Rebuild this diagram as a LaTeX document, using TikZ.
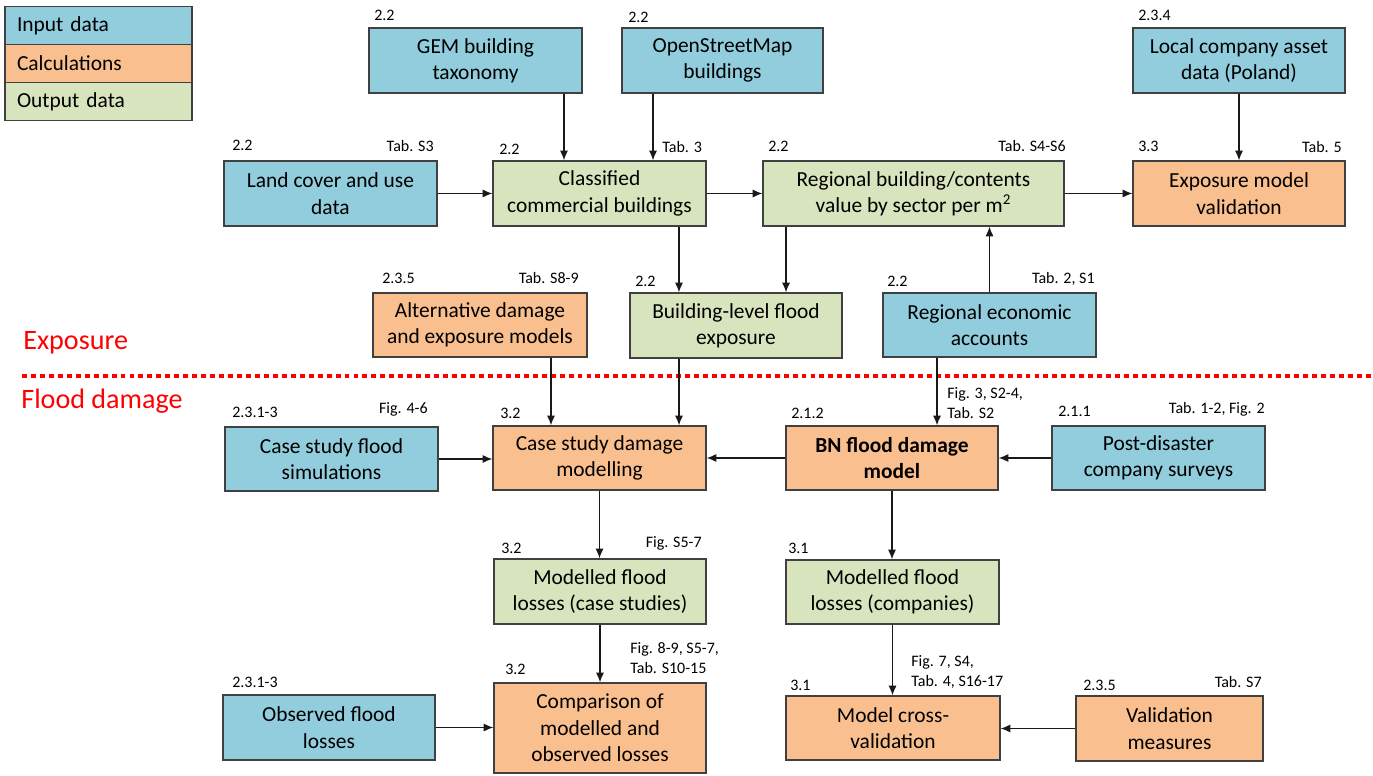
\documentclass[tikz,border=0pt]{standalone}
\usepackage{fontspec}
\setmainfont{Carlito}
\usepackage{tikz}
\usetikzlibrary{arrows.meta}
\definecolor{inblue}{RGB}{146,205,221}
\definecolor{calcorange}{RGB}{250,191,143}
\definecolor{outgreen}{RGB}{215,228,189}
\definecolor{edgegray}{RGB}{64,64,64}
\tikzset{
    blk/.style={draw=edgegray, line width=0.75pt, align=center, inner sep=0pt,
        font=\fontsize{12.2}{15}\selectfont, minimum height=1.3cm},
    inbox/.style={blk, fill=inblue},
    calcbox/.style={blk, fill=calcorange},
    outbox/.style={blk, fill=outgreen},
    sec/.style={inner sep=0pt, align=left, font=\fontsize{9.1}{11.2}\selectfont},
    arr/.style={-{Latex[length=5.5pt,width=4.6pt]}, line width=0.75pt, black!90},
    part/.style={inner sep=0pt, text=red, font=\fontsize{16}{19}\selectfont},
    legendrow/.style={draw=edgegray, line width=0.75pt, inner xsep=0.24cm,
        text width=3.26cm, minimum height=0.76cm, align=left,
        font=\fontsize{12.2}{15}\selectfont},
    sepline/.style={red, line width=2.8pt, dash pattern=on 2.8pt off 2.3pt}
}

\begin{document}
\begin{tikzpicture}[x=0.02cm, y=-0.02cm]
\useasboundingbox (0,0) rectangle (1373,776);

% legend
\node[legendrow, fill=inblue] (legin) at (98.5,25.5) {Input data};
\node[legendrow, fill=calcorange] (legcalc) at (98.5,63.5) {Calculations};
\node[legendrow, fill=outgreen] (legout) at (98.5,101.5) {Output data};

% exposure part
\node[inbox, minimum width=4.26cm] (gem) at (475.5,60.5) {GEM building\\taxonomy};
\node[inbox, minimum width=4.02cm] (osm) at (722.5,60.5) {OpenStreetMap\\buildings};
\node[inbox, minimum width=4.24cm] (local) at (1239,60.5) {Local company asset\\data (Poland)};
\node[inbox, minimum width=4.26cm] (land) at (330.5,193.5) {Land cover and use\\data};
\node[outbox, minimum width=4.26cm] (classified) at (599.5,193.5) {Classified\\commercial buildings};
\node[outbox, minimum width=6.02cm] (regval) at (913.5,193.5) {Regional building/contents\\value by sector per m\textsuperscript{2}};
\node[calcbox, minimum width=4.24cm] (expval) at (1239,193.5) {Exposure model\\validation};
\node[calcbox, minimum width=4.28cm, minimum height=1.28cm] (altmod) at (480,325) {Alternative damage\\and exposure models};
\node[outbox, minimum width=4.24cm] (bldexp) at (736,325.5) {Building-level flood\\exposure};
\node[inbox, minimum width=4.26cm, minimum height=1.28cm] (regecon) at (989.5,325) {Regional economic\\accounts};

% flood damage part
\node[inbox, minimum width=4.26cm, minimum height=1.28cm] (casesim) at (331.5,459) {Case study flood\\simulations};
\node[calcbox, minimum width=4.26cm, minimum height=1.28cm] (casedmg) at (599.5,458) {Case study damage\\modelling};
\node[calcbox, minimum width=4.24cm, minimum height=1.28cm, font=\fontsize{12.2}{15}\selectfont\bfseries] (bnmodel) at (892,458) {BN flood damage\\model};
\node[inbox, minimum width=4.26cm, minimum height=1.28cm] (survey) at (1158.5,458) {Post-disaster\\company surveys};
\node[outbox, minimum width=4.24cm] (modcase) at (600,591.5) {Modelled flood\\losses (case studies)};
\node[outbox, minimum width=4.26cm, minimum height=1.28cm] (modcomp) at (892.5,592) {Modelled flood\\losses (companies)};
\node[calcbox, minimum width=4.24cm, minimum height=1.8cm] (compare) at (600,728) {Comparison of\\modelled and\\observed losses};
\node[inbox, minimum width=4.24cm] (observed) at (329,727.5) {Observed flood\\losses};
\node[calcbox, minimum width=4.28cm, minimum height=1.28cm] (crossval) at (893,728) {Model cross-\\validation};
\node[calcbox, minimum width=3.74cm] (valmeas) at (1169.5,728.5) {Validation\\measures};

% section and table references
\node[sec, anchor=base west] (gem-s) at (374,21) {2.2};
\node[sec, anchor=base west] (osm-s) at (628,23) {2.2};
\node[sec, anchor=base west] (local-s) at (1138,21) {2.3.4};
\node[sec, anchor=base west] (land-s) at (232,151) {2.2};
\node[sec, anchor=base east] (land-t) at (434,152) {Tab. S3};
\node[sec, anchor=base west] (classified-s) at (499,155) {2.2};
\node[sec, anchor=base west] (classified-t) at (662,153) {Tab. 3};
\node[sec, anchor=base west] (regval-s) at (768,152) {2.2};
\node[sec, anchor=base east] (regval-t) at (1066,152) {Tab. S4-S6};
\node[sec, anchor=base west] (expval-s) at (1138,152) {3.3};
\node[sec, anchor=base east] (expval-t) at (1342,153) {Tab. 5};
\node[sec, anchor=base west] (altmod-s) at (382,284) {2.3.5};
\node[sec, anchor=base east] (altmod-t) at (579,284) {Tab. S8-9};
\node[sec, anchor=base west] (bldexp-s) at (635,287) {2.2};
\node[sec, anchor=base west] (regecon-s) at (887,287) {2.2};
\node[sec, anchor=base east] (regecon-t) at (1095,284) {Tab. 2, S1};
\node[sec, anchor=base west] (casesim-s) at (232,418) {2.3.1-3};
\node[sec, anchor=base east] (casesim-t) at (428,414) {Fig. 4-6};
\node[sec, anchor=base west] (casedmg-s) at (500,419) {3.2};
\node[sec, anchor=base west] (bnmodel-s) at (791,419) {2.1.2};
\node[sec, anchor=north west] (bnmodel-t) at (947,387) {Fig. 3, S2-4,\\Tab. S2};
\node[sec, anchor=base west] (survey-s) at (1058,417) {2.1.1};
\node[sec, anchor=base east] (survey-t) at (1265,414) {Tab. 1-2, Fig. 2};
\node[sec, anchor=base west] (modcase-s) at (501,554) {3.2};
\node[sec, anchor=base east] (modcase-t) at (702,548) {Fig. S5-7};
\node[sec, anchor=base west] (modcomp-s) at (788,554) {3.1};
\node[sec, anchor=north west] (compare-t) at (630,642) {Fig. 8-9, S5-7,\\Tab. S10-15};
\node[sec, anchor=base west] (compare-s) at (505,674) {3.2};
\node[sec, anchor=base west] (observed-s) at (232,687) {2.3.1-3};
\node[sec, anchor=north west] (crossval-t) at (911,655) {Fig. 7, S4,\\Tab. 4, S16-17};
\node[sec, anchor=base west] (crossval-s) at (790,690) {3.1};
\node[sec, anchor=base west] (valmeas-s) at (1083,690) {2.3.5};
\node[sec, anchor=base east] (valmeas-t) at (1262,687) {Tab. S7};

% parts
\node[part, anchor=base west] (exposure) at (23,350) {Exposure};
\node[part, anchor=base west] (flooddmg) at (21,409) {Flood damage};
\draw[sepline] (22,376) -- (1373,376);

% connectors
\draw[arr] ([xshift=1.77cm]gem.south) -- ([xshift=1.77cm]gem.south |- classified.north);
\draw[arr] ([xshift=-1.39cm]osm.south) -- ([xshift=-1.39cm]osm.south |- classified.north);
\draw[arr] (land.east) -- (classified.west);
\draw[arr] (classified.east) -- (regval.west);
\draw[arr] (regval.east) -- (expval.west);
\draw[arr] (local.south) -- (expval.north);
\draw[arr] ([xshift=1.59cm]classified.south) -- ([xshift=1.59cm]classified.south |- bldexp.north);
\draw[arr] ([xshift=-2.55cm]regval.south) -- ([xshift=-2.55cm]regval.south |- bldexp.north);
\draw[arr] (regecon.north) -- (regecon.north |- regval.south);
\draw[arr] ([xshift=1.42cm]altmod.south) -- ([xshift=1.42cm]altmod.south |- casedmg.north);
\draw[arr] ([xshift=-1.14cm]bldexp.south) -- ([xshift=-1.14cm]bldexp.south |- casedmg.north);
\draw[arr] ([xshift=-1.05cm]regecon.south) -- ([xshift=-1.05cm]regecon.south |- bnmodel.north);
\draw[arr] (casesim.east) -- (casesim.east -| casedmg.west);
\draw[arr] (bnmodel.west) -- (casedmg.east);
\draw[arr] (survey.west) -- (survey.west -| bnmodel.east);
\draw[arr] (casedmg.south) -- (casedmg.south |- modcase.north);
\draw[arr] (bnmodel.south) -- (bnmodel.south |- modcomp.north);
\draw[arr] (modcase.south) -- (modcase.south |- compare.north);
\draw[arr] (modcomp.south) -- (modcomp.south |- crossval.north);
\draw[arr] (observed.east) -- (observed.east -| compare.west);
\draw[arr] (valmeas.west) -- (valmeas.west -| crossval.east);
\end{tikzpicture}
\end{document}
